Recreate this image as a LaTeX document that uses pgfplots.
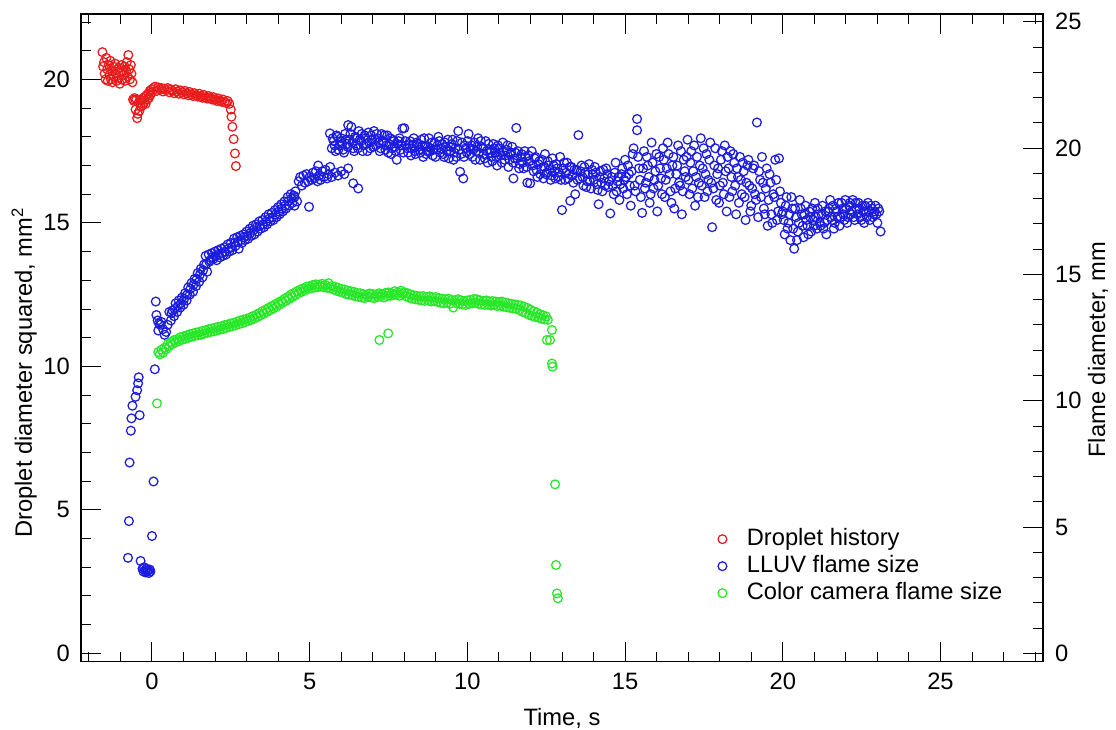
\documentclass[border=0pt]{standalone}
\usepackage{fontspec}
\setmainfont{Liberation Sans}
\usepackage{pgfplots}
\pgfplotsset{compat=1.18}
\definecolor{cred}{RGB}{232,28,28}
\definecolor{cblue}{RGB}{28,28,222}
\definecolor{cgreen}{RGB}{40,230,40}
\newcommand{\ff}{\fontsize{23.7bp}{28bp}\selectfont}
\pgfplotsset{
  common/.style={
    at={(0,0)}, anchor=south west,
    scale only axis, width=962bp, height=647.7bp,
    xmin=-2.25, xmax=28.25,
    tick align=inside,
    major tick length=20bp, minor tick length=10bp,
    every tick/.style={black, line width=1bp},
    axis line style={line width=1.2bp, black},
    /pgf/number format/assume math mode=true,
    tick label style={font=\ff},
    label style={font=\ff},
  }
}
\begin{document}
\ff
\begin{tikzpicture}
\useasboundingbox (-81bp,-68.3bp) rectangle (1035bp,661.7bp);
\begin{axis}[common,
  ymin=-0.29, ymax=22.28,
  xtick={0,5,...,25}, minor xtick={-2,-1,...,28},
  ytick={0,5,...,20}, minor ytick={0,1,...,22},
  ytick pos=left, xtick pos=both, xticklabel pos=bottom,
  xticklabel style={anchor=north, inner sep=0pt, yshift=-11bp},
  yticklabel style={anchor=east, inner sep=0pt, xshift=-11bp},
  xlabel={Time, s},
  ylabel={Droplet diameter squared, mm\textsuperscript{2}},
  every axis x label/.style={at={(axis description cs:0.5,0)}, anchor=base, yshift=-64bp, font=\ff},
  every axis y label/.style={at={(axis description cs:0,0.446)}, xshift=-49bp, rotate=90, anchor=base, font=\ff},
  legend style={draw=none, fill=none, at={(axis description cs:0.662,0.208)}, anchor=north west, font=\ff,
    inner sep=0pt, column sep=20bp, row sep=3bp,
    nodes={inner sep=0pt, text height=18bp, text depth=6bp}},
  legend image code/.code={\draw[#1] plot coordinates {(0bp,0bp)};},
  legend cell align=left,
  every axis plot/.append style={only marks, mark=o, mark size=4.4bp, mark options={line width=1.25bp}},
]
\addplot[cred] coordinates {
(-1.57,20.95) (-1.55,20.45) (-1.52,20.6) (-1.50,20.2) (-1.47,20.0) (-1.45,20.75) (-1.42,20.35) (-1.40,19.95) (-1.37,20.5) (-1.35,20.15)
(-1.32,20.65) (-1.30,20.0) (-1.27,20.3) (-1.25,19.9) (-1.22,20.45) (-1.20,20.1) (-1.17,20.55) (-1.15,20.2) (-1.12,19.95) (-1.10,20.35)
(-1.07,20.05) (-1.05,20.4) (-1.02,19.85) (-1.00,20.25) (-0.97,20.5) (-0.95,20.0) (-0.92,20.3) (-0.90,20.15) (-0.87,20.45) (-0.85,19.95)
(-0.82,20.3) (-0.80,20.6) (-0.77,20.1) (-0.75,20.85) (-0.72,20.35) (-0.70,20.0) (-0.67,20.5) (-0.65,20.2) (-0.62,19.9)
(-0.60,19.3) (-0.57,19.25) (-0.55,19.35) (-0.52,18.95) (-0.50,19.3) (-0.47,18.65) (-0.45,18.8) (-0.42,19.2) (-0.40,18.9) (-0.37,19.3)
(-0.35,19.05) (-0.32,19.25) (-0.30,19.1) (-0.27,19.35) (-0.25,19.2) (-0.22,19.4) (-0.20,19.15) (-0.17,19.45) (-0.15,19.3) (-0.12,19.5)
(-0.10,19.35) (-0.07,19.6) (-0.05,19.45) (-0.02,19.65)
(0.00,19.55) (0.05,19.7) (0.10,19.75) (0.15,19.6) (0.20,19.72) (0.25,19.65) (0.30,19.7) (0.35,19.58) (0.40,19.68) (0.45,19.62)
(0.50,19.7) (0.55,19.55) (0.60,19.65) (0.65,19.6) (0.70,19.52) (0.75,19.66) (0.80,19.58) (0.85,19.5) (0.90,19.62) (0.95,19.55)
(1.00,19.48) (1.05,19.6) (1.10,19.52) (1.15,19.45) (1.20,19.56) (1.25,19.48) (1.30,19.42) (1.35,19.52) (1.40,19.45) (1.45,19.4)
(1.50,19.5) (1.55,19.42) (1.60,19.36) (1.65,19.46) (1.70,19.38) (1.75,19.33) (1.80,19.42) (1.85,19.35) (1.90,19.3) (1.95,19.38)
(2.00,19.3) (2.05,19.25) (2.10,19.34) (2.15,19.27) (2.20,19.22) (2.25,19.3) (2.30,19.22) (2.35,19.18) (2.40,19.25) (2.45,19.15)
(2.50,18.95) (2.52,18.7) (2.55,18.35) (2.59,17.92) (2.63,17.42) (2.66,16.98)
};
\addlegendentry{Droplet history}
\addplot[cblue] coordinates {
(-0.76,3.33) (-0.73,4.61) (-0.71,6.65) (-0.67,7.76) (-0.65,8.19) (-0.62,8.63) (-0.52,8.94) (-0.47,9.17) (-0.44,9.41) (-0.42,9.62) (-0.39,8.30)
(-0.36,3.22) (-0.30,2.95) (-0.27,2.85) (-0.25,3.0) (-0.22,2.9) (-0.20,2.82) (-0.17,2.95) (-0.15,2.85) (-0.12,2.9) (-0.10,2.8) (-0.07,2.92) (-0.05,2.85)
(0.00,4.09) (0.05,5.99) (0.09,9.9) (0.12,12.26) (0.14,11.79) (0.18,11.6) (0.22,11.5) (0.26,11.45) (0.20,11.25) (0.30,11.55) (0.35,11.3) (0.40,11.1) (0.45,11.2) (0.50,11.45)
(0.55,11.9) (0.60,11.6) (0.65,11.95) (0.70,11.75) (0.75,12.2) (0.80,11.9) (0.85,12.3) (0.90,12.05) (0.95,12.4) (1.00,12.15)
(1.05,12.55) (1.10,12.3) (1.15,12.75) (1.20,12.5) (1.25,12.9) (1.30,12.6) (1.35,13.05) (1.40,12.8) (1.45,13.25) (1.50,12.95)
(1.55,13.4) (1.60,13.1) (1.65,13.55) (1.70,13.85) (1.75,13.3) (1.80,13.9) (1.85,13.7) (1.90,13.95) (1.95,13.75) (2.00,14.0)
(2.05,13.7) (2.10,14.05) (2.15,13.8) (2.20,14.1) (2.25,13.85) (2.30,14.15) (2.35,13.9) (2.40,14.25) (2.45,14.0) (2.50,14.3)
(2.55,14.05) (2.60,14.45) (2.65,14.2) (2.70,14.5) (2.75,14.1) (2.80,14.55) (2.85,14.3) (2.90,14.6) (2.95,14.4) (3.00,14.7)
(3.05,14.45) (3.10,14.8) (3.15,14.55) (3.20,14.9) (3.25,14.6) (3.30,14.95) (3.35,14.7) (3.40,15.05) (3.45,14.8) (3.50,15.1)
(3.55,14.85) (3.60,15.2) (3.65,14.95) (3.70,15.3) (3.75,15.05) (3.80,15.35) (3.85,15.1) (3.90,15.45) (3.95,15.2) (4.00,15.55)
(4.05,15.3) (4.10,15.65) (4.15,15.4) (4.20,15.75) (4.25,15.5) (4.30,15.9) (4.35,15.6) (4.40,16.0) (4.45,15.7) (4.50,15.95)
(4.52,15.6) (4.55,16.1) (4.60,15.75) (4.65,16.45) (4.70,16.6) (4.75,16.3) (4.80,16.65) (4.85,16.4) (4.90,16.7) (4.95,16.45) (5.00,16.6) (4.98,15.56)
(0.62,11.85) (0.72,12.0) (0.82,12.1) (0.92,12.2) (1.02,12.35) (1.12,12.5) (1.22,12.7) (1.32,12.85) (1.42,13.05) (1.52,13.2)
(1.62,13.35) (1.72,13.55) (1.82,13.65) (1.92,13.8) (2.02,13.85) (2.12,13.9) (2.22,13.95) (2.32,14.0) (2.42,14.1) (2.52,14.15)
(2.62,14.3) (2.72,14.35) (2.82,14.4) (2.92,14.5) (3.02,14.55) (3.12,14.65) (3.22,14.75) (3.32,14.85) (3.42,14.9) (3.52,14.95)
(3.62,15.05) (3.72,15.15) (3.82,15.2) (3.92,15.3) (4.02,15.4) (4.12,15.5) (4.22,15.6) (4.32,15.75) (4.42,15.85) (4.52,15.9)
(5.05,16.5) (5.10,16.75) (5.15,16.55) (5.20,16.8) (5.25,16.45) (5.27,17.0) (5.30,16.65) (5.35,16.5) (5.40,16.8) (5.45,16.6)
(5.50,16.85) (5.55,16.55) (5.60,16.7) (5.65,16.95) (5.70,16.6) (5.80,16.75) (5.90,16.65) (6.00,16.8) (6.10,16.7) (6.22,16.9) (6.38,16.38) (6.54,16.2)
(5.64,18.12) (5.70,17.6) (5.76,17.85) (5.82,17.5) (5.88,18.0) (5.94,17.7) (6.00,17.95) (6.06,17.55) (6.12,18.1) (6.18,17.75)
(6.22,18.41) (6.26,17.9) (6.32,18.35) (6.38,17.6) (6.44,18.0) (6.50,17.7) (6.56,18.2) (6.62,17.85) (6.68,17.5) (6.74,18.05)
(6.80,17.75) (6.86,18.15) (6.92,17.6) (6.98,17.9) (7.04,18.2) (7.10,17.7) (7.16,17.95) (7.22,17.5) (7.28,18.1) (7.34,17.8)
(7.40,17.55) (7.46,18.05) (7.52,17.75) (7.58,17.4) (7.64,17.9) (7.70,17.65) (7.76,17.2) (7.82,17.85) (7.88,17.55) (7.94,18.29)
(8.00,18.3) (8.06,17.7) (8.12,17.45) (8.18,17.85) (8.24,17.6) (8.30,17.95) (8.36,17.4) (8.42,17.75) (8.48,17.55) (8.54,17.9)
(8.60,17.3) (8.66,17.7) (8.72,17.5) (8.78,17.95) (8.84,17.6) (8.90,17.35) (8.96,17.8) (9.02,17.55) (9.08,18.0) (9.14,17.45)
(9.20,17.75) (9.26,17.3) (9.32,17.65) (9.38,17.9) (9.44,17.5) (9.50,17.75) (9.56,17.2) (9.62,17.6) (9.68,17.85) (9.71,18.2)
(9.77,16.78) (9.80,17.4) (9.87,16.55) (9.92,17.7) (9.98,17.45) (10.04,18.1) (10.10,17.6) (10.16,17.3) (10.22,17.8) (10.28,17.5)
(10.34,17.95) (10.40,17.2) (10.46,17.65) (10.52,17.4) (10.58,17.85) (10.64,17.1) (10.70,17.55) (10.76,17.3) (10.82,17.75) (10.88,17.45)
(10.94,17.0) (11.00,17.6) (11.06,17.35) (11.12,17.8) (11.18,17.2) (11.24,17.55) (11.30,16.95) (11.36,17.4) (11.42,17.65) (11.46,16.55)
(11.50,17.25) (11.55,18.31) (11.60,17.5) (11.66,17.05) (11.72,17.4) (11.78,16.9) (11.84,17.3) (11.90,16.4) (11.96,17.15) (11.99,16.38)
(5.73,17.95) (5.79,17.7) (5.85,18.05) (5.91,17.55) (5.97,17.85) (6.03,17.75) (6.09,17.45) (6.15,17.9) (6.21,17.65) (6.29,18.1)
(6.35,17.8) (6.41,17.5) (6.47,17.95) (6.53,17.6) (6.59,17.9) (6.65,18.1) (6.71,17.7) (6.77,17.95) (6.83,17.5) (6.89,17.8)
(6.95,18.05) (7.01,17.65) (7.07,17.9) (7.13,18.1) (7.19,17.8) (7.25,17.6) (7.31,17.85) (7.37,18.05) (7.43,17.7) (7.49,17.45)
(7.55,17.95) (7.61,17.6) (7.67,17.85) (7.73,17.5) (7.79,17.75) (7.85,17.95) (7.91,17.7) (7.97,17.45) (8.03,17.85) (8.09,17.6)
(8.15,17.75) (8.21,17.35) (8.27,17.7) (8.33,17.5) (8.39,17.8) (8.45,17.65) (8.51,17.45) (8.57,17.7) (8.63,17.95) (8.69,17.4)
(8.75,17.65) (8.81,17.5) (8.87,17.8) (8.93,17.55) (8.99,17.3) (9.05,17.7) (9.11,17.85) (9.17,17.6) (9.23,17.4) (9.29,17.8)
(9.35,17.5) (9.41,17.25) (9.47,17.65) (9.53,17.9) (9.59,17.45) (9.65,17.3) (9.74,17.55) (9.83,17.8) (9.89,17.3) (9.95,17.6)
(10.01,17.85) (10.07,17.4) (10.13,17.7) (10.19,17.55) (10.25,17.2) (10.31,17.65) (10.37,17.45) (10.43,17.85) (10.49,17.6) (10.55,17.25)
(10.61,17.5) (10.67,17.75) (10.73,17.45) (10.79,17.15) (10.85,17.6) (10.91,17.3) (10.97,17.7) (11.03,17.45) (11.09,17.1) (11.15,17.5)
(11.21,17.35) (11.27,17.7) (11.33,17.2) (11.39,17.45) (11.45,17.1) (11.52,17.45) (11.58,17.25) (11.64,16.9) (11.70,17.3) (11.76,17.1)
(11.82,17.5) (11.88,16.95) (11.94,17.35)
(12.04,17.5) (12.10,16.8) (12.16,17.3) (12.22,16.6) (12.28,17.15) (12.34,16.9) (12.41,16.55) (12.46,17.4) (12.52,16.75) (12.58,17.0)
(12.64,16.5) (12.70,17.25) (12.76,16.8) (12.82,17.05) (12.88,16.6) (12.94,17.3) (13.00,15.45) (13.04,16.9) (13.10,16.5) (13.16,17.1)
(13.22,16.7) (13.26,15.77) (13.30,16.95) (13.36,16.4) (13.42,16.0) (13.46,16.85) (13.52,18.06) (13.56,16.55) (13.62,17.0) (13.68,16.3)
(13.74,16.75) (13.80,16.45) (13.86,17.05) (13.92,16.2) (13.98,16.7) (14.04,16.95) (14.10,16.35) (14.16,15.65) (14.22,16.8) (14.28,16.1)
(14.34,16.55) (14.40,16.9) (14.46,16.25) (14.53,15.33) (14.58,16.6) (14.64,16.0) (14.70,17.1) (14.76,16.45) (14.82,15.8) (14.88,16.7) (14.94,16.2)
(12.07,17.0) (12.13,17.25) (12.19,16.85) (12.25,17.05) (12.31,16.7) (12.37,17.2) (12.44,16.95) (12.49,16.7) (12.55,17.15) (12.61,16.85)
(12.67,16.65) (12.73,17.0) (12.79,16.55) (12.85,16.9) (12.91,16.75) (12.97,16.5) (13.07,17.1) (13.13,16.75) (13.19,16.55) (13.25,16.95)
(13.33,16.65) (13.39,16.85) (13.49,16.5) (13.59,16.8) (13.65,16.6) (13.71,16.95) (13.77,16.25) (13.83,16.7) (13.89,16.45) (13.95,16.85)
(14.01,16.5) (14.07,16.75) (14.13,16.15) (14.19,16.6) (14.25,16.4) (14.31,16.85) (14.37,16.3) (14.43,16.7) (14.49,16.45) (14.61,16.3)
(14.67,16.75) (14.73,16.1) (14.79,16.6) (14.85,16.35) (14.91,16.9) (14.97,16.5)
(15.00,17.2) (15.06,16.0) (15.12,16.7) (15.18,15.6) (15.24,17.4) (15.30,16.3) (15.38,18.62) (15.38,18.23) (15.44,16.9) (15.50,15.9)
(15.54,15.35) (15.60,17.5) (15.66,16.4) (15.72,17.0) (15.78,15.7) (15.84,17.8) (15.90,16.2) (15.96,16.8) (16.02,15.4) (16.08,17.3)
(16.14,16.55) (16.20,17.6) (16.26,15.9) (16.32,16.9) (16.38,17.4) (16.44,16.1) (16.50,17.0) (16.56,15.5) (16.62,16.7) (16.68,17.7)
(16.74,16.3) (16.80,15.3) (16.86,17.2) (16.92,16.6) (16.98,17.9) (17.04,16.0) (17.10,17.5) (17.16,16.8) (17.22,15.6) (17.28,17.3)
(17.34,16.4) (17.40,17.95) (17.46,16.9) (17.52,15.9) (17.58,17.4) (17.64,16.5) (17.70,17.8) (17.76,14.85) (17.80,16.2) (17.86,17.6)
(17.92,16.7) (17.98,15.7) (18.04,17.2) (18.10,16.4) (18.16,17.7) (18.22,15.4) (18.28,16.9) (18.34,17.5) (18.40,16.1) (18.46,17.1)
(18.52,15.3) (18.58,16.6) (18.64,17.3) (18.70,16.0) (18.76,16.8) (18.82,15.1) (18.88,17.0) (18.94,16.3) (19.00,15.6) (19.06,16.9)
(19.12,16.0) (19.18,18.5) (19.22,15.2) (19.28,16.5) (19.34,17.3) (19.40,15.5) (19.46,16.2) (19.52,14.9) (19.58,16.7) (19.64,15.3)
(19.70,16.0) (19.76,17.2) (19.82,15.1) (19.88,17.25) (19.94,15.7)
(15.03,16.6) (15.09,17.0) (15.15,16.3) (15.21,16.8) (15.27,17.6) (15.33,16.1) (15.41,17.3) (15.47,16.5) (15.57,16.9) (15.63,16.2)
(15.69,17.3) (15.75,16.6) (15.81,16.0) (15.87,17.1) (15.93,16.5) (15.99,17.4) (16.05,16.3) (16.11,16.9) (16.17,16.0) (16.23,17.2)
(16.29,16.5) (16.35,17.8) (16.41,16.7) (16.47,15.7) (16.53,17.3) (16.59,16.2) (16.65,17.0) (16.71,16.4) (16.77,17.5) (16.83,16.1)
(16.89,16.8) (16.95,17.3) (17.01,16.5) (17.07,17.1) (17.13,16.2) (17.19,17.7) (17.25,16.6) (17.31,15.9) (17.37,17.0) (17.43,16.3)
(17.49,17.6) (17.55,16.7) (17.61,16.1) (17.67,17.2) (17.73,16.4) (17.83,17.0) (17.89,15.8) (17.95,16.9) (18.01,16.3) (18.07,17.5)
(18.13,16.0) (18.19,16.8) (18.25,17.3) (18.31,15.9) (18.37,16.6) (18.43,17.4) (18.49,16.3) (18.55,16.9) (18.61,15.7) (18.67,16.5)
(18.73,17.1) (18.79,15.9) (18.85,16.4) (18.91,17.2) (18.97,15.4) (19.03,16.2) (19.09,17.0) (19.15,15.8) (19.25,16.8) (19.31,15.9)
(19.37,16.4) (19.43,15.3) (19.49,16.9) (19.55,15.8) (19.61,16.4) (19.67,15.0) (19.73,15.9) (19.79,16.5) (19.85,15.4) (19.91,16.1) (19.97,15.3)
(20.00,15.4) (20.06,14.6) (20.12,15.9) (20.18,15.0) (20.24,14.4) (20.30,15.5) (20.36,14.1) (20.42,15.2) (20.48,14.7) (20.54,15.8)
(20.60,15.3) (20.66,14.5) (20.72,15.6) (20.78,14.9) (20.84,15.4) (20.90,14.7) (20.96,15.1) (21.02,15.7) (21.08,14.8) (21.14,15.3)
(21.20,14.9) (21.26,15.6) (21.32,15.0) (21.38,14.6) (21.44,15.4) (21.50,15.8) (21.56,15.1) (21.62,14.8) (21.68,15.5) (21.74,15.2)
(21.80,14.9) (21.86,15.7) (21.92,15.3) (21.98,15.8) (22.04,15.0) (22.10,15.6) (22.16,15.3) (22.22,15.8) (22.28,15.1) (22.34,15.5)
(22.40,15.7) (22.46,15.2) (22.52,15.6) (22.58,15.0) (22.64,15.4) (22.70,15.7) (22.76,15.1) (22.82,15.5) (22.88,15.3) (22.94,15.6)
(23.00,15.0) (23.06,15.4) (23.10,14.7)
(20.03,15.1) (20.09,15.6) (20.15,14.8) (20.21,15.3) (20.27,15.9) (20.33,14.8) (20.39,15.5) (20.45,14.4) (20.51,15.0) (20.57,15.5)
(20.63,14.9) (20.69,15.3) (20.75,15.1) (20.81,14.6) (20.87,15.2) (20.93,15.5) (20.99,14.9) (21.05,15.2) (21.11,15.5) (21.17,15.0)
(21.23,15.3) (21.29,14.8) (21.35,15.4) (21.41,15.1) (21.47,15.5) (21.53,15.2) (21.59,15.6) (21.65,15.0) (21.71,15.4) (21.77,15.7)
(21.83,15.2) (21.89,15.5) (21.95,15.1) (22.01,15.5) (22.07,15.2) (22.13,15.7) (22.19,15.4) (22.25,15.2) (22.31,15.7) (22.37,15.3)
(22.43,15.5) (22.49,15.1) (22.55,15.4) (22.61,15.6) (22.67,15.2) (22.73,15.4) (22.79,15.6) (22.85,15.2) (22.91,15.4) (22.97,15.3) (23.03,15.5)
};
\addlegendentry{LLUV flame size}
\addplot[cgreen] coordinates {
(0.16,8.71) (7.21,10.92) (7.49,11.15)
(0.20,10.50) (0.25,10.42) (0.30,10.58) (0.35,10.48) (0.40,10.65) (0.45,10.60) (0.50,10.78) (0.55,10.70) (0.60,10.85) (0.65,10.78)
(0.70,10.92) (0.75,10.84) (0.80,10.95) (0.85,10.88) (0.90,11.02) (0.95,10.93) (1.00,11.05) (1.05,10.96) (1.10,11.08) (1.15,11.00)
(1.20,11.12) (1.25,11.03) (1.30,11.15) (1.35,11.06) (1.40,11.18) (1.45,11.08) (1.50,11.20) (1.55,11.10) (1.60,11.24) (1.65,11.14)
(1.70,11.26) (1.75,11.16) (1.80,11.30) (1.85,11.20) (1.90,11.32) (1.95,11.22) (2.00,11.35) (2.05,11.25) (2.10,11.38) (2.15,11.28)
(2.20,11.40) (2.25,11.30) (2.30,11.44) (2.35,11.34) (2.40,11.46) (2.45,11.37) (2.50,11.50) (2.55,11.40) (2.60,11.52) (2.65,11.43)
(2.70,11.56) (2.75,11.47) (2.80,11.60) (2.85,11.50) (2.90,11.63) (2.95,11.54) (3.00,11.66) (3.05,11.58) (3.10,11.70) (3.15,11.62)
(3.20,11.75) (3.25,11.67) (3.30,11.80) (3.35,11.72) (3.40,11.86) (3.45,11.78) (3.50,11.92) (3.55,11.84) (3.60,11.98) (3.65,11.90)
(3.70,12.04) (3.75,11.96) (3.80,12.10) (3.85,12.02) (3.90,12.16) (3.95,12.08) (4.00,12.22) (4.05,12.15) (4.10,12.28) (4.15,12.22)
(4.20,12.36) (4.25,12.28) (4.30,12.42) (4.35,12.35) (4.40,12.50) (4.45,12.42) (4.50,12.56) (4.55,12.48) (4.60,12.62) (4.65,12.55)
(4.70,12.68) (4.75,12.60) (4.80,12.72) (4.85,12.65) (4.90,12.78) (4.95,12.70) (5.00,12.80) (5.05,12.72) (5.10,12.84) (5.15,12.75)
(5.20,12.86) (5.25,12.76) (5.30,12.85) (5.35,12.78) (5.40,12.88) (5.45,12.76) (5.50,12.84) (5.55,12.74) (5.60,12.90) (5.65,12.72)
(5.70,12.80) (5.75,12.68) (5.80,12.78) (5.85,12.64) (5.90,12.74) (5.95,12.60) (6.00,12.70) (6.05,12.58) (6.10,12.68) (6.15,12.52)
(6.20,12.64) (6.25,12.50) (6.30,12.62) (6.35,12.48) (6.40,12.60) (6.45,12.44) (6.50,12.56) (6.55,12.42) (6.60,12.55) (6.65,12.40)
(6.70,12.52) (6.75,12.38) (6.80,12.50) (6.85,12.42) (6.90,12.54) (6.95,12.40) (7.00,12.52) (7.05,12.38) (7.10,12.50) (7.15,12.42)
(7.20,12.55) (7.25,12.44) (7.30,12.52) (7.35,12.40) (7.40,12.56) (7.45,12.45) (7.50,12.58) (7.55,12.46) (7.60,12.55) (7.65,12.48)
(7.70,12.62) (7.75,12.50) (7.80,12.58) (7.85,12.46) (7.90,12.64) (7.95,12.52) (8.00,12.58) (8.05,12.44) (8.10,12.55) (8.15,12.40)
(8.20,12.50) (8.25,12.36) (8.30,12.48) (8.35,12.34) (8.40,12.46) (8.45,12.32) (8.50,12.44) (8.55,12.30) (8.60,12.45) (8.65,12.28)
(8.70,12.42) (8.75,12.30) (8.80,12.44) (8.85,12.26) (8.90,12.40) (8.95,12.28) (9.00,12.42) (9.05,12.25) (9.10,12.38) (9.15,12.22)
(9.20,12.36) (9.25,12.20) (9.30,12.34) (9.35,12.22) (9.40,12.36) (9.45,12.18) (9.50,12.32) (9.55,12.05) (9.60,12.30) (9.65,12.20)
(9.70,12.34) (9.75,12.18) (9.80,12.30) (9.85,12.16) (9.90,12.28) (9.95,12.14) (10.00,12.30) (10.05,12.18) (10.10,12.32) (10.15,12.20)
(10.20,12.35) (10.25,12.22) (10.30,12.34) (10.35,12.18) (10.40,12.30) (10.45,12.16) (10.50,12.28) (10.55,12.14) (10.60,12.30) (10.65,12.15)
(10.70,12.26) (10.75,12.12) (10.80,12.28) (10.85,12.14) (10.90,12.26) (10.95,12.10) (11.00,12.24) (11.05,12.12) (11.10,12.26) (11.15,12.08)
(11.20,12.22) (11.25,12.06) (11.30,12.20) (11.35,12.04) (11.40,12.18) (11.45,12.02) (11.50,12.16) (11.55,12.00) (11.60,12.14) (11.65,11.96)
(11.70,12.12) (11.75,11.90) (11.80,12.08) (11.85,11.86) (11.90,12.04) (11.95,11.80) (12.00,11.98) (12.05,11.76) (12.10,11.92) (12.15,11.72)
(12.20,11.88) (12.25,11.70) (12.30,11.82) (12.35,11.66) (12.40,11.78) (12.45,11.64) (12.50,11.74) (12.55,11.62)
(12.68,11.27) (12.52,10.92) (12.62,10.92) (12.68,10.10) (12.70,9.99) (12.78,5.89) (12.81,3.08) (12.84,2.09) (12.87,1.92)
};
\addlegendentry{Color camera flame size}
\end{axis}
\begin{axis}[common,
  ymin=-0.33, ymax=25.31,
  axis x line=none, axis y line*=right,
  ytick={0,5,...,25}, minor ytick={0,1,...,25},
  yticklabel style={anchor=west, inner sep=0pt, xshift=12bp},
  ylabel={Flame diameter, mm},
  every axis y label/.style={at={(axis description cs:1,0.482)}, xshift=62bp, rotate=90, anchor=base, font=\ff},
]
\end{axis}
\end{tikzpicture}
\end{document}
